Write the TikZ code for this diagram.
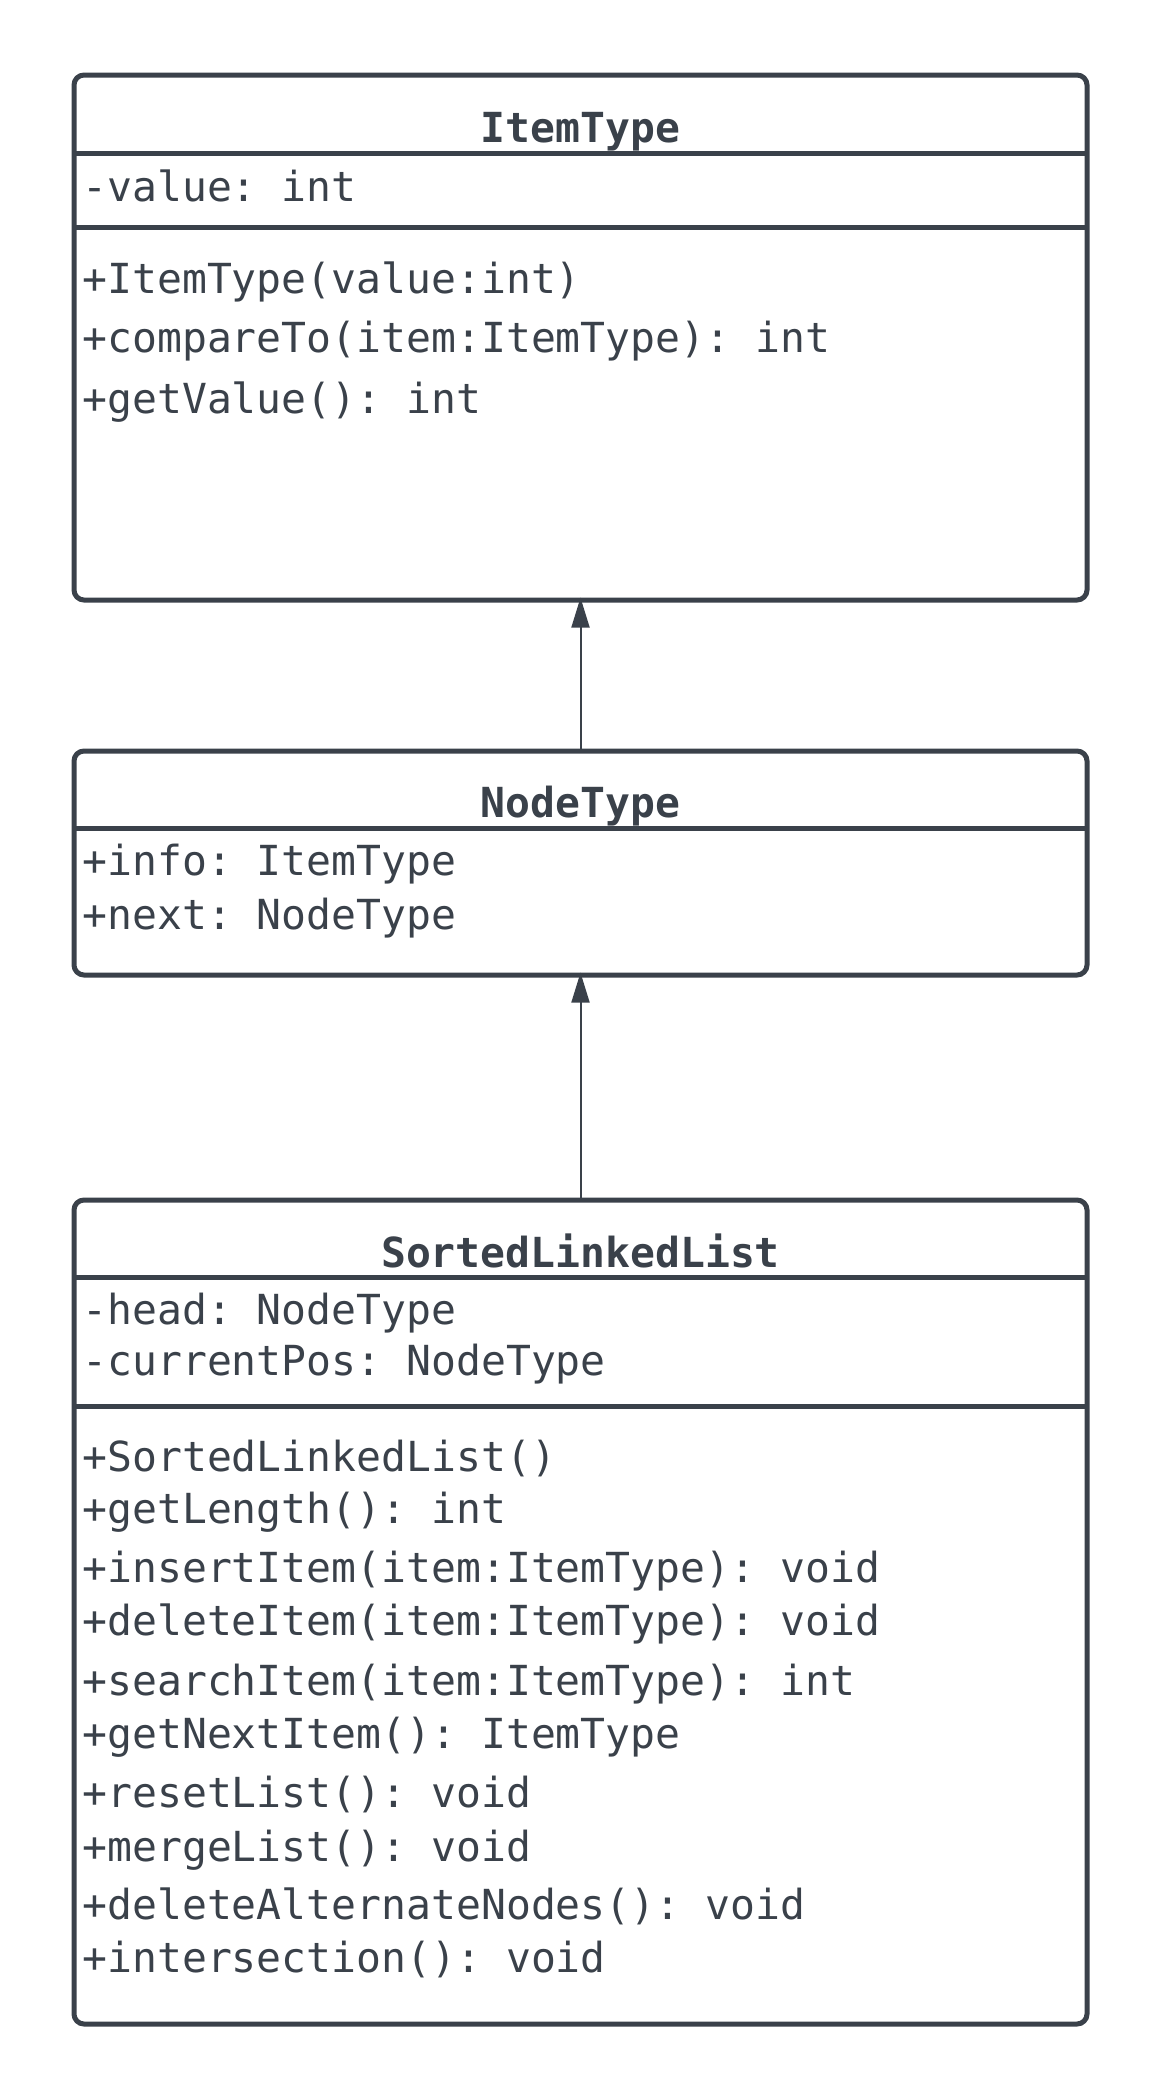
\documentclass[tikz,border=0pt]{standalone}
\usepackage{fontspec}
\setmonofont{DejaVu Sans Mono}
\usetikzlibrary{arrows.meta}
\definecolor{umlgray}{HTML}{3A414A}
\tikzstyle{umlclass} = [draw=umlgray, line width=2.5pt, rounded corners=5pt,
  minimum width=506.5pt, inner sep=0pt, outer sep=0pt, anchor=north]
\tikzstyle{sep} = [draw=umlgray, line width=2.5pt]
\tikzstyle{classname} = [anchor=base, inner sep=0pt, text=umlgray,
  font=\fontsize{20.7pt}{24pt}\selectfont\ttfamily\bfseries]
\tikzstyle{member} = [anchor=base west, inner sep=0pt, text=umlgray,
  font=\fontsize{20.7pt}{24pt}\selectfont\ttfamily]
\tikzstyle{link} = [draw=umlgray, line width=1pt,
  -{Triangle[length=15pt,width=9pt]}, shorten >=-1.2pt]
\begin{document}
\begin{tikzpicture}[x=0.5pt, y=-0.5pt]
\useasboundingbox (0,0) rectangle (1163,2100);

% Class boxes
\node (item) [umlclass, minimum height=262.5pt] at (580.5,75) {};
\path (item.south) +(0,151) node (nodetype) [umlclass, minimum height=112pt] {};
\path (nodetype.south) +(0,225) node (sorted) [umlclass, minimum height=412pt] {};

% Compartment lines
\draw[sep] (item.west |- 0,153) -- (item.east |- 0,153);
\draw[sep] (item.west |- 0,227) -- (item.east |- 0,227);
\draw[sep] (nodetype.west |- 0,828) -- (nodetype.east |- 0,828);
\draw[sep] (sorted.west |- 0,1277) -- (sorted.east |- 0,1277);
\draw[sep] (sorted.west |- 0,1406) -- (sorted.east |- 0,1406);

% Class names
\node (item-name) [classname] at (580.5,142) {ItemType};
\node (nodetype-name) [classname] at (580.5,817) {NodeType};
\node (sorted-name) [classname] at (580.5,1267) {SortedLinkedList};

% Members
\foreach \y/\txt [count=\i] in {201/-value: int, 293/+ItemType(value:int),
    352/+compareTo(item:ItemType): int, 413/+getValue(): int}
  \node (item-m\i) [member] at (82,\y) {\txt};
\foreach \y/\txt [count=\i] in {875/+info: ItemType, 929/+next: NodeType}
  \node (nodetype-m\i) [member] at (82,\y) {\txt};
\foreach \y/\txt [count=\i] in {1324/-head: NodeType, 1375/-currentPos: NodeType,
    1471/+SortedLinkedList(), 1523/+getLength(): int,
    1582/+insertItem(item:ItemType): void, 1635/+deleteItem(item:ItemType): void,
    1695/+searchItem(item:ItemType): int, 1748/+getNextItem(): ItemType,
    1807/+resetList(): void, 1861/+mergeList(): void,
    1919/+deleteAlternateNodes(): void, 1972/+intersection(): void}
  \node (sorted-m\i) [member] at (82,\y) {\txt};

% Draw arrows between classes
\path [link] (nodetype.north) -- (item.south);
\path [link] (sorted.north) -- (nodetype.south);

\end{tikzpicture}
\end{document}
